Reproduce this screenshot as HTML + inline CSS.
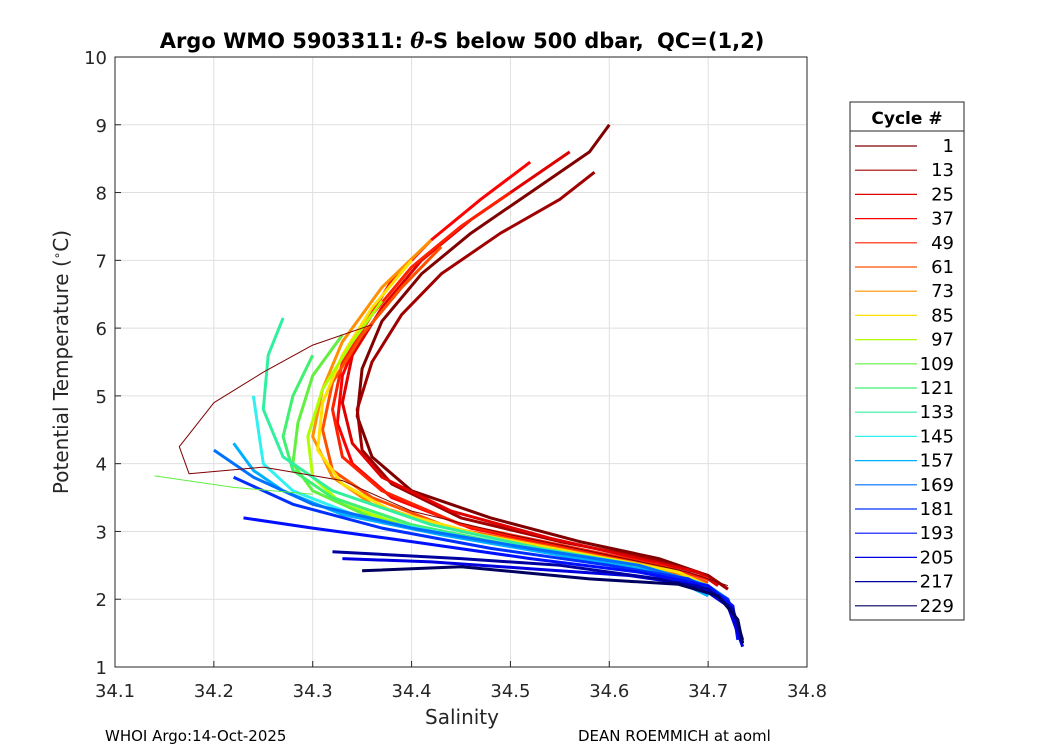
<!DOCTYPE html>
<html><head><meta charset="utf-8"><style>
body{margin:0;background:#fff;}
svg text{font-family:"DejaVu Sans","Liberation Sans",sans-serif;}
</style></head><body>
<svg id="chart" width="1050" height="750" xmlns="http://www.w3.org/2000/svg">
<rect x="0" y="0" width="1050" height="750" fill="#fff"/>
<rect x="115" y="57" width="692" height="610" fill="#fff"/>
<g id="grid"></g>
<g id="series"></g>
<rect x="115" y="57" width="692" height="610" fill="none" stroke="#262626" stroke-width="1"/>
<g id="ticks"></g>
<text x="462" y="48" text-anchor="middle" font-size="21" font-weight="bold">Argo WMO 5903311: <tspan font-style="italic" font-family="DejaVu Serif,serif">θ</tspan>-S below 500 dbar,  <tspan dx="6">QC=(1,2)</tspan></text>
<text x="462" y="724" text-anchor="middle" font-size="20" fill="#262626">Salinity</text>
<text transform="translate(68,362) rotate(-90)" text-anchor="middle" font-size="20" fill="#262626">Potential Temperature (<tspan baseline-shift="super" font-size="12">∘</tspan>C)</text>
<text x="105" y="741" font-size="15">WHOI Argo:14-Oct-2025</text>
<text x="578" y="741" font-size="15">DEAN ROEMMICH at aoml</text>
<g id="legend">
<rect x="850" y="102" width="114" height="518" fill="#fff" stroke="#262626" stroke-width="1"/>
<line x1="850" y1="131" x2="964" y2="131" stroke="#262626" stroke-width="1"/>
<text x="907" y="124" text-anchor="middle" font-size="17" font-weight="bold">Cycle #</text>
</g>
</svg>
<script>
const xTicks=[34.1,34.2,34.3,34.4,34.5,34.6,34.7,34.8];
const yTicks=[1,2,3,4,5,6,7,8,9,10];
const legendCycles=[1,13,25,37,49,61,73,85,97,109,121,133,145,157,169,181,193,205,217,229];
const legendColors=['#800000','#a00000','#e00000','#ff0000','#ff2000','#ff5000','#ff9000','#ffe000','#b0ff00','#60f040','#40f070','#30f0a0','#30f0f0','#00b0ff','#0070ff','#0030ff','#0010ff','#0000e0','#0000a0','#000060'];
const profileCycles=[5,13,25,37,49,61,73,85,97,109,121,133,145,157,169,181,193,205,217,229,1,115];
const profileSal=[
[34.60,34.58,34.52,34.46,34.41,34.37,34.35,34.345,34.36,34.40,34.48,34.57,34.65,34.70,34.72],
[34.585,34.55,34.49,34.43,34.39,34.36,34.345,34.35,34.38,34.45,34.55,34.64,34.70,34.72],
[34.56,34.52,34.46,34.41,34.37,34.34,34.33,34.34,34.37,34.44,34.54,34.63,34.69,34.71],
[34.52,34.47,34.42,34.38,34.35,34.33,34.325,34.34,34.38,34.46,34.56,34.65,34.70],
[34.50,34.45,34.40,34.36,34.33,34.32,34.33,34.37,34.45,34.55,34.65,34.70],
[34.43,34.39,34.35,34.32,34.31,34.32,34.36,34.44,34.55,34.65,34.70],
[34.42,34.37,34.33,34.31,34.30,34.32,34.36,34.45,34.56,34.66,34.70],
[34.40,34.36,34.33,34.31,34.305,34.33,34.38,34.47,34.58,34.67,34.70],
[34.37,34.34,34.31,34.295,34.30,34.33,34.40,34.50,34.60,34.68,34.70],
[34.33,34.30,34.285,34.28,34.30,34.36,34.45,34.56,34.65,34.70],
[34.30,34.28,34.27,34.28,34.32,34.40,34.50,34.60,34.68,34.705],
[34.27,34.255,34.25,34.27,34.32,34.42,34.53,34.63,34.69,34.70],
[34.24,34.245,34.25,34.28,34.35,34.46,34.57,34.66,34.70],
[34.22,34.24,34.27,34.33,34.43,34.55,34.65,34.70],
[34.20,34.24,34.30,34.40,34.52,34.63,34.70,34.72],
[34.22,34.28,34.37,34.48,34.60,34.68,34.72,34.73],
[34.23,34.30,34.40,34.52,34.63,34.70,34.725,34.73],
[34.33,34.42,34.52,34.62,34.69,34.72,34.735],
[34.32,34.45,34.55,34.65,34.70,34.725,34.735],
[34.35,34.45,34.58,34.67,34.71,34.73,34.735],
[34.36,34.30,34.25,34.20,34.165,34.175,34.25,34.33,34.40,34.50,34.60,34.68,34.72],
[34.14,34.22,34.30]
];
const profileTemp=[
[9.0,8.6,8.0,7.4,6.8,6.1,5.4,4.7,4.1,3.6,3.2,2.85,2.6,2.35,2.15],
[8.3,7.9,7.4,6.8,6.2,5.5,4.8,4.2,3.7,3.2,2.85,2.6,2.35,2.15],
[8.6,8.2,7.6,7.0,6.3,5.6,4.9,4.3,3.8,3.3,2.9,2.6,2.4,2.2],
[8.45,7.9,7.3,6.7,6.0,5.3,4.6,4.0,3.5,3.05,2.75,2.5,2.3],
[8.0,7.5,6.9,6.2,5.5,4.8,4.1,3.6,3.1,2.8,2.5,2.3],
[7.2,6.6,5.9,5.2,4.5,3.9,3.5,3.05,2.75,2.45,2.25],
[7.3,6.6,5.8,5.1,4.4,3.8,3.4,3.0,2.7,2.45,2.2],
[7.0,6.3,5.6,4.9,4.2,3.7,3.3,2.95,2.65,2.4,2.2],
[6.4,5.8,5.1,4.4,3.8,3.4,3.05,2.8,2.55,2.3,2.15],
[5.9,5.3,4.6,4.0,3.6,3.2,2.9,2.65,2.4,2.1],
[5.6,5.0,4.4,3.9,3.5,3.1,2.8,2.55,2.3,2.05],
[6.15,5.6,4.8,4.1,3.6,3.1,2.75,2.5,2.25,2.05],
[5.0,4.5,4.0,3.6,3.2,2.9,2.6,2.35,2.05],
[4.3,3.9,3.6,3.25,2.95,2.65,2.4,2.05],
[4.2,3.8,3.4,3.05,2.75,2.5,2.2,2.0],
[3.8,3.4,3.05,2.75,2.5,2.3,2.0,1.6],
[3.2,3.05,2.85,2.6,2.4,2.2,1.9,1.4],
[2.6,2.55,2.45,2.35,2.2,1.9,1.3],
[2.7,2.6,2.5,2.3,2.15,1.85,1.4],
[2.42,2.48,2.3,2.22,2.05,1.7,1.35],
[6.05,5.75,5.35,4.9,4.25,3.85,3.95,3.75,3.3,2.95,2.65,2.4,2.2],
[3.82,3.65,3.55]
];
const NS="http://www.w3.org/2000/svg";
const X0=115,X1=807,Y0=667,Y1=57;
function xs(s){return X0+(s-34.1)/(34.8-34.1)*(X1-X0);}
function ys(t){return Y0-(t-1)/(10-1)*(Y0-Y1);}
function colorFor(c){let best=0;legendCycles.forEach((lc,i)=>{if(Math.abs(lc-c)<Math.abs(legendCycles[best]-c))best=i;});return legendColors[best];}
function mk(tag,attrs,parent){const e=document.createElementNS(NS,tag);for(const k in attrs)e.setAttribute(k,attrs[k]);parent.appendChild(e);return e;}
const grid=document.getElementById('grid'),ticks=document.getElementById('ticks');
xTicks.forEach(v=>{const x=xs(v);
 const gl=mk('line',{x1:x,y1:Y1,x2:x,y2:Y0,stroke:'#dfdfdf','stroke-width':1},grid);
 
 
 mk('line',{x1:x,y1:Y0,x2:x,y2:Y0-6,stroke:'#262626'},ticks);
 const t=mk('text',{x:x,y:697,'text-anchor':'middle','font-size':18,fill:'#262626'},ticks);t.textContent=v.toFixed(1);
 
 
});
yTicks.forEach(v=>{const y=ys(v);
 const gl=mk('line',{x1:X0,y1:y,x2:X1,y2:y,stroke:'#dfdfdf','stroke-width':1},grid);
 
 
 mk('line',{x1:X0,y1:y,x2:X0+6,y2:y,stroke:'#262626'},ticks);
 const t=mk('text',{x:107,y:y+7,'text-anchor':'end','font-size':18,fill:'#262626'},ticks);t.textContent=v;
 
 
});
const series=document.getElementById('series');
profileCycles.forEach((c,i)=>{
 const pts=profileSal[i].map((s,j)=>xs(s).toFixed(1)+','+ys(profileTemp[i][j]).toFixed(1)).join(' ');
 const w=(c===1||c===115)?1:3;
 const p=mk('polyline',{points:pts,fill:'none',stroke:colorFor(c),'stroke-width':w,'stroke-linejoin':'round'},series);
 
 
});
const leg=document.getElementById('legend');
legendCycles.forEach((c,i)=>{const y=146+i*24.2;
 const l=mk('line',{x1:855,y1:y,x2:917,y2:y,stroke:legendColors[i],'stroke-width':1.2},leg);
 
 
 const t=mk('text',{x:954,y:y+6,'text-anchor':'end','font-size':18},leg);t.textContent=c;
 
 
});
</script>
</body></html>
